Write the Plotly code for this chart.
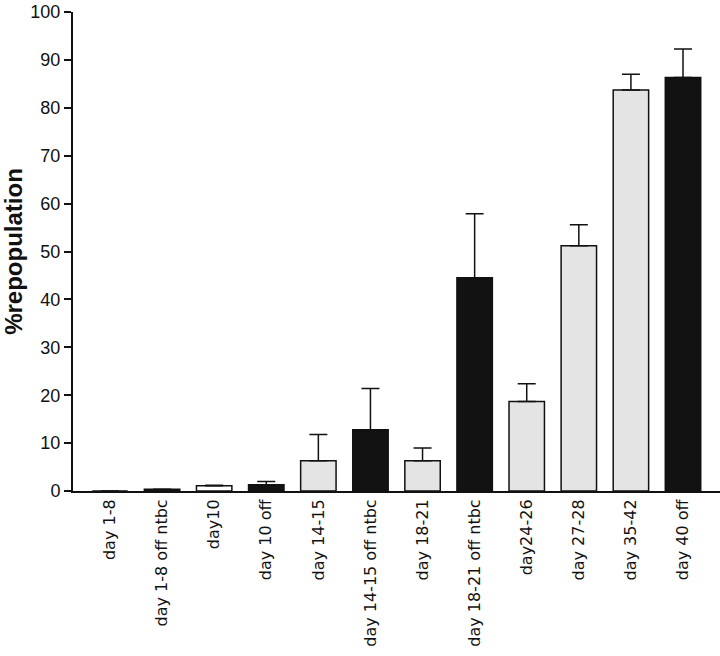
import plotly.graph_objects as go

categories = ["day 1-8", "day 1-8 off ntbc", "day10", "day 10 off", "day 14-15",
              "day 14-15 off ntbc", "day 18-21", "day 18-21 off ntbc", "day24-26",
              "day 27-28", "day 35-42", "day 40 off"]
repopulation = [0.0, 0.35, 1.1, 1.3, 6.3, 12.8, 6.3, 44.5, 18.7, 51.2, 83.7, 86.3]
error_upper = [0.0, 0.0, 0.1, 0.7, 5.5, 8.6, 2.7, 13.4, 3.7, 4.4, 3.3, 6.0]
y_ticks = [0, 10, 20, 30, 40, 50, 60, 70, 80, 90, 100]

LIGHT = "#e4e4e4"
DARK = "#121212"
WHITE = "#ffffff"
bar_colors = [LIGHT, DARK, WHITE, DARK, LIGHT, DARK, LIGHT, DARK, LIGHT, LIGHT, LIGHT, DARK]

fig = go.Figure()
fig.add_trace(go.Bar(
    x=list(range(len(categories))),
    y=repopulation,
    width=0.68,
    marker=dict(color=bar_colors, line=dict(color="#111111", width=1.5)),
    error_y=dict(type="data", symmetric=False, array=error_upper,
                 arrayminus=[0] * len(categories),
                 color="#111111", thickness=1.5, width=9),
))

fig.update_layout(
    width=720, height=656,
    margin=dict(l=73, r=0, t=12, b=165, autoexpand=False),
    plot_bgcolor="white", paper_bgcolor="white",
    showlegend=False,
    font=dict(family="Liberation Sans, Arial, sans-serif", color="#111111"),
)
fig.update_xaxes(
    tickmode="array", tickvals=list(range(len(categories))), ticktext=categories,
    range=[-0.71, 11.71], tickangle=-90, automargin=False,
    tickfont=dict(family="DejaVu Sans, sans-serif", size=16),
    showline=True, linecolor="#111111", linewidth=2, ticks="",
    showgrid=False, zeroline=False,
)
fig.update_yaxes(
    range=[0, 100], tickmode="array", tickvals=y_ticks, automargin=False,
    tickfont=dict(size=18),
    ticks="outside", ticklen=7, tickwidth=1.5, tickcolor="#111111",
    showline=True, linecolor="#111111", linewidth=2,
    showgrid=False, zeroline=False,
    title=dict(text="<b>%repopulation</b>", font=dict(size=24), standoff=6),
)

fig.write_html("out.html", config={"displayModeBar": False},
               post_script="document.body.style.margin='0';")
